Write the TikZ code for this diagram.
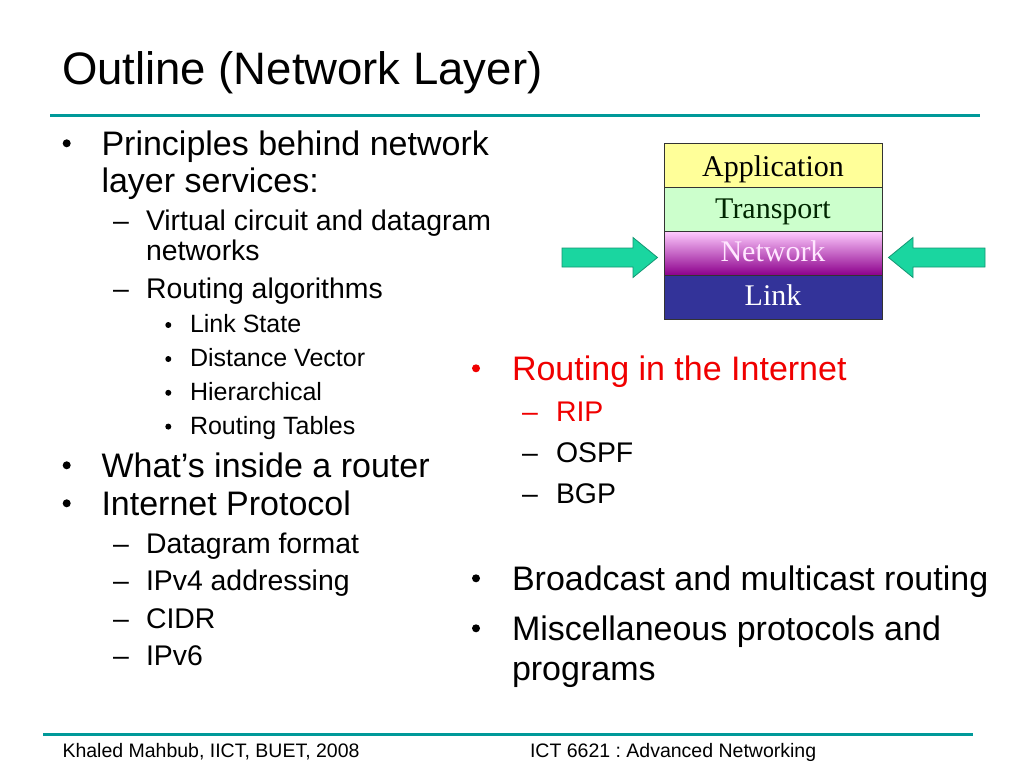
\documentclass[tikz,border=0pt]{standalone}
\usepackage{fontspec}
\setmainfont{Liberation Sans}
\newfontfamily\layerfont{Liberation Serif}
\frenchspacing
\definecolor{rulecol}{RGB}{0,153,153}
\definecolor{appcol}{RGB}{255,255,153}
\definecolor{trancol}{RGB}{204,255,204}
\definecolor{nettop}{RGB}{255,204,255}
\definecolor{netmid}{RGB}{222,150,222}
\definecolor{netbot}{RGB}{140,0,140}
\definecolor{linkcol}{RGB}{51,51,153}
\definecolor{arrowfill}{RGB}{26,214,160}
\definecolor{arrowedge}{RGB}{20,150,115}
\definecolor{netfont}{RGB}{255,230,255}
\definecolor{redtxt}{RGB}{240,0,0}
\tikzset{
  txt/.style={anchor=base west, inner sep=0pt, outer sep=0pt},
  lvlone/.style={txt, font=\fontsize{34}{40}\selectfont},
  lvltwo/.style={txt, font=\fontsize{28.4}{34}\selectfont},
  lvlthree/.style={txt, font=\fontsize{25}{30}\selectfont},
  foot/.style={txt, font=\fontsize{19.5}{23}\selectfont},
  titletxt/.style={txt, font=\fontsize{45.5}{52}\selectfont},
  bigdot/.style={circle, fill=black, inner sep=0pt, minimum size=8pt},
  smalldot/.style={circle, fill=black, inner sep=0pt, minimum size=6pt},
  rulel/.style={draw=rulecol, line width=3pt},
  layerbox/.style={draw=black!80, line width=0.8pt},
  layertxt/.style={anchor=base, inner sep=0pt, font=\layerfont\fontsize{30}{34}\selectfont},
  blockarrow/.style={fill=arrowfill, draw=arrowedge, line width=0.8pt, line join=miter}
}
\begin{document}
\begin{tikzpicture}[x=1pt,y=-1pt]
\useasboundingbox (0,0) rectangle (1024,768);
\fill[white] (0,0) rectangle (1024,768);

% title and rules
\node[titletxt] (title) at (62,84) {Outline (Network Layer)};
\coordinate (rtl) at (50,115);
\coordinate (rtr) at (980,115);
\draw[rulel] (rtl) -- (rtr);
\coordinate (rbl) at (43,734);
\coordinate (rbr) at (973,734);
\draw[rulel] (rbl) -- (rbr);

% footer
\node[foot] (f1) at (62.5,757) {Khaled Mahbub, IICT, BUET, 2008};
\node[foot] (f2) at (530,757) {ICT 6621 : Advanced Networking};

% left column
\node[bigdot] (b1) at (66.7,143.3) {};
\node[lvlone] (t1) at (101.5,155) {Principles behind network};
\node[lvlone] (t1b) at (101.5,192) {layer services:};
\node[lvltwo] (d1) at (113,230) {–};
\node[lvltwo] (t2) at (146,230) {Virtual circuit and datagram};
\node[lvltwo] (t2b) at (146,260) {networks};
\node[lvltwo] (d2) at (113,298) {–};
\node[lvltwo] (t3) at (146,298) {Routing algorithms};
\node[smalldot] (b31) at (168.3,325) {};
\node[lvlthree] (t31) at (190,332.7) {Link State};
\node[smalldot] (b32) at (168.3,359) {};
\node[lvlthree] (t32) at (190,366.7) {Distance Vector};
\node[smalldot] (b33) at (168.3,392.8) {};
\node[lvlthree] (t33) at (190,400.5) {Hierarchical};
\node[smalldot] (b34) at (168.3,426.6) {};
\node[lvlthree] (t34) at (190,434.3) {Routing Tables};
\node[bigdot] (b4) at (66.7,465.3) {};
\node[lvlone] (t4) at (101.5,477) {What’s inside a router};
\node[bigdot] (b5) at (66.7,503.3) {};
\node[lvlone] (t5) at (101.5,515) {Internet Protocol};
\node[lvltwo] (d51) at (113,553) {–};
\node[lvltwo] (t51) at (146,553) {Datagram format};
\node[lvltwo] (d52) at (113,590.5) {–};
\node[lvltwo] (t52) at (146,590.5) {IPv4 addressing};
\node[lvltwo] (d53) at (113,628) {–};
\node[lvltwo] (t53) at (146,628) {CIDR};
\node[lvltwo] (d54) at (113,665.5) {–};
\node[lvltwo] (t54) at (146,665.5) {IPv6};

% right column
\node[bigdot, fill=redtxt] (rb1) at (476,368.3) {};
\node[lvlone, text=redtxt] (rt1) at (512,380) {Routing in the Internet};
\node[lvltwo, text=redtxt] (rd1) at (522,421) {–};
\node[lvltwo, text=redtxt] (rt11) at (556,421) {RIP};
\node[lvltwo] (rd2) at (522,462) {–};
\node[lvltwo] (rt12) at (556,462) {OSPF};
\node[lvltwo] (rd3) at (522,503) {–};
\node[lvltwo] (rt13) at (556,503) {BGP};
\node[bigdot] (rb2) at (476,578.3) {};
\node[lvlone] (rt2) at (512,590) {Broadcast and multicast routing};
\node[bigdot] (rb3) at (476,628.3) {};
\node[lvlone] (rt3) at (512,640) {Miscellaneous protocols and};
\node[lvlone] (rt3b) at (512,680) {programs};

% protocol stack
\fill[appcol] (664,143) rectangle (882,187);
\fill[trancol] (664,187) rectangle (882,231);
\shade[top color=nettop, middle color=netmid, bottom color=netbot] (664,231) rectangle (882,275);
\fill[linkcol] (664,275) rectangle (882,319);
\draw[layerbox] (664,143) rectangle (882,187);
\draw[layerbox] (664,187) rectangle (882,231);
\draw[layerbox] (664,231) rectangle (882,275);
\draw[layerbox] (664,275) rectangle (882,319);
\node[layertxt, text=black] (app) at (773,176.7) {Application};
\node[layertxt, text=black!85!green] (tra) at (773,218.3) {Transport};
\node[layertxt, text=netfont] (net) at (773,261.7) {Network};
\node[layertxt, text=white] (lnk) at (773,305) {Link};

% block arrows
\draw[blockarrow] (562,248) -- (633,248) -- (633,237.5) -- (657.5,257.5) -- (633,277.5) -- (633,267) -- (562,267) -- cycle;
\draw[blockarrow] (985,248) -- (913,248) -- (913,237.5) -- (888.5,257.5) -- (913,277.5) -- (913,267) -- (985,267) -- cycle;
\end{tikzpicture}
\end{document}
